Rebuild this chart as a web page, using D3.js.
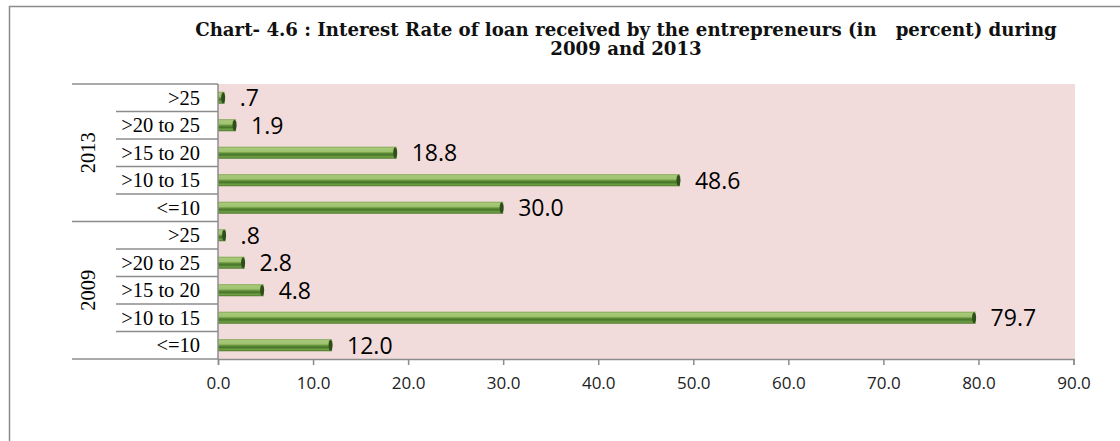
<!DOCTYPE html>
<html>
<head>
<meta charset="utf-8">
<script src="https://cdn.jsdelivr.net/npm/d3@7"></script>
<style>
  html, body { margin: 0; padding: 0; background: #ffffff; }
  svg { display: block; }
  .title text { white-space: pre; }
</style>
</head>
<body>
<svg id="chart" width="1120" height="441"></svg>
<script>
// Interest rate bands, listed bottom-to-top inside each year group
const rateBands = ["<=10", ">10 to 15", ">15 to 20", ">20 to 25", ">25"];
// Year groups, bottom group first
const years = ["2009", "2013"];
// Share of entrepreneurs (percent) per band
const values2009 = [12.0, 79.7, 4.8, 2.8, 0.8];
const values2013 = [30.0, 48.6, 18.8, 1.9, 0.7];
const xTicks = [0, 10, 20, 30, 40, 50, 60, 70, 80, 90];
const titleLines = [
  "Chart- 4.6 : Interest Rate of loan received by the entrepreneurs (in   percent) during",
  "2009 and 2013"
];

const seriesByYear = { "2009": values2009, "2013": values2013 };

// Flatten into rows, top of the chart first
const rows = [];
years.slice().reverse().forEach(year => {
  rateBands.slice().reverse().forEach(band => {
    const i = rateBands.indexOf(band);
    rows.push({ key: year + "|" + band, year, band, value: seriesByYear[year][i] });
  });
});

const svg = d3.select("#chart");

const plot = { left: 218, right: 1073.5, top: 84, bottom: 359 };

const x = d3.scaleLinear().domain([0, 90]).range([plot.left, plot.right]);
const y = d3.scaleBand().domain(rows.map(r => r.key)).range([plot.top, plot.bottom]).padding(0);

// Outer chart frame (runs off the bottom/right edge)
svg.append("path")
  .attr("d", "M9.5,445 L9.5,6.5 L1125,6.5")
  .attr("fill", "none")
  .attr("stroke", "#8c8c8c")
  .attr("stroke-width", 1.5);

// Title, two centred lines
const titleFont = "'DejaVu Serif', 'Liberation Serif', serif";
const title = svg.append("g").attr("class", "title");
const titleText = title.selectAll("text")
  .data(titleLines)
  .join("text")
  .attr("xml:space", "preserve")
  .attr("x", 626)
  .attr("y", (d, i) => 36 + i * 19)
  .attr("text-anchor", "middle")
  .attr("font-family", titleFont)
  .attr("font-weight", "bold")
  .attr("font-size", 17)
  .attr("fill", "#111")
  .text(d => d);
// size the title so its first line spans the header width
const w1 = titleText.nodes()[0].getComputedTextLength();
titleText.attr("font-size", 17 * 862 / w1);

// Plot background
svg.append("rect")
  .attr("x", plot.left).attr("y", plot.top)
  .attr("width", x(90) - plot.left + 1.5)
  .attr("height", plot.bottom - plot.top)
  .attr("fill", "#f2dcdb");

// Bar gradient (cylinder-like shading)
const defs = svg.append("defs");
const grad = defs.append("linearGradient")
  .attr("id", "barFill")
  .attr("x1", 0).attr("y1", 0).attr("x2", 0).attr("y2", 1);
[
  [0, "#76a044"],
  [0.12, "#a8c97b"],
  [0.4, "#9ec26e"],
  [0.54, "#5f8d36"],
  [0.68, "#46752a"],
  [0.84, "#72a046"],
  [1, "#4d7a2c"]
].forEach(([o, c]) => grad.append("stop").attr("offset", o).attr("stop-color", c));

const barH = 12;
const bars = svg.append("g").attr("class", "bars");
bars.selectAll("rect.bar")
  .data(rows)
  .join("rect")
  .attr("class", "bar")
  .attr("x", x(0))
  .attr("y", d => y(d.key) + y.bandwidth() / 2 - barH / 2)
  .attr("width", d => x(d.value) - x(0))
  .attr("height", barH)
  .attr("fill", "url(#barFill)");
// dark end caps
bars.selectAll("ellipse.cap")
  .data(rows)
  .join("ellipse")
  .attr("class", "cap")
  .attr("cx", d => x(d.value) - 1.5)
  .attr("cy", d => y(d.key) + y.bandwidth() / 2)
  .attr("rx", 2)
  .attr("ry", barH / 2 - 0.5)
  .attr("fill", "#2f4f1a");

// Value labels
const fmt = v => d3.format(".1f")(v).replace(/^0\./, ".");
svg.append("g").selectAll("text")
  .data(rows)
  .join("text")
  .attr("x", d => x(d.value) + 15)
  .attr("y", d => y(d.key) + y.bandwidth() / 2)
  .attr("dy", "0.36em")
  .attr("font-family", "'Open Sans', 'Noto Sans', sans-serif")
  .attr("font-size", 23)
  .attr("fill", "#000")
  .text(d => fmt(d.value));

// Value axis
const xAxis = svg.append("g")
  .attr("transform", `translate(0,${plot.bottom})`)
  .call(d3.axisBottom(x).tickValues(xTicks).tickFormat(d3.format(".1f")).tickSize(6).tickPadding(12));
xAxis.select(".domain").attr("stroke", "#8c8c8c").attr("stroke-width", 1.5);
xAxis.selectAll(".tick line").attr("stroke", "#8c8c8c").attr("stroke-width", 1.5);
xAxis.selectAll(".tick text")
  .attr("font-family", "'Open Sans', 'Noto Sans', sans-serif")
  .attr("font-size", 17)
  .attr("fill", "#222");

// Two-level category axis
const catAxis = svg.append("g").attr("class", "cat-axis");
const gridStroke = "#8c8c8c";
catAxis.append("line")
  .attr("x1", plot.left).attr("x2", plot.left)
  .attr("y1", plot.top).attr("y2", plot.bottom)
  .attr("stroke", gridStroke).attr("stroke-width", 1.5);

const boundaries = rows.map((r, i) => ({ y: y(r.key), groupStart: i === 0 || rows[i - 1].year !== r.year }));
boundaries.push({ y: plot.bottom, groupStart: true });
catAxis.selectAll("line.sep")
  .data(boundaries)
  .join("line")
  .attr("class", "sep")
  .attr("x1", d => d.groupStart ? 72 : 116)
  .attr("x2", plot.left)
  .attr("y1", d => d.y).attr("y2", d => d.y)
  .attr("stroke", gridStroke).attr("stroke-width", 1.5);

const serif = "'Liberation Serif', 'Times New Roman', serif";
catAxis.selectAll("text.band")
  .data(rows)
  .join("text")
  .attr("class", "band")
  .attr("x", 200)
  .attr("y", d => y(d.key) + y.bandwidth() / 2)
  .attr("dy", "0.35em")
  .attr("text-anchor", "end")
  .attr("font-family", serif)
  .attr("font-size", 20.5)
  .attr("fill", "#000")
  .text(d => d.band);

catAxis.selectAll("text.year")
  .data(years)
  .join("text")
  .attr("class", "year")
  .attr("transform", yr => {
    const ys = rows.filter(r => r.year === yr).map(r => y(r.key));
    const cy = (d3.min(ys) + d3.max(ys) + y.bandwidth()) / 2;
    return `translate(88,${cy}) rotate(-90)`;
  })
  .attr("dy", "0.35em")
  .attr("text-anchor", "middle")
  .attr("font-family", serif)
  .attr("font-size", 20.5)
  .attr("fill", "#000")
  .text(yr => yr);
</script>
</body>
</html>
